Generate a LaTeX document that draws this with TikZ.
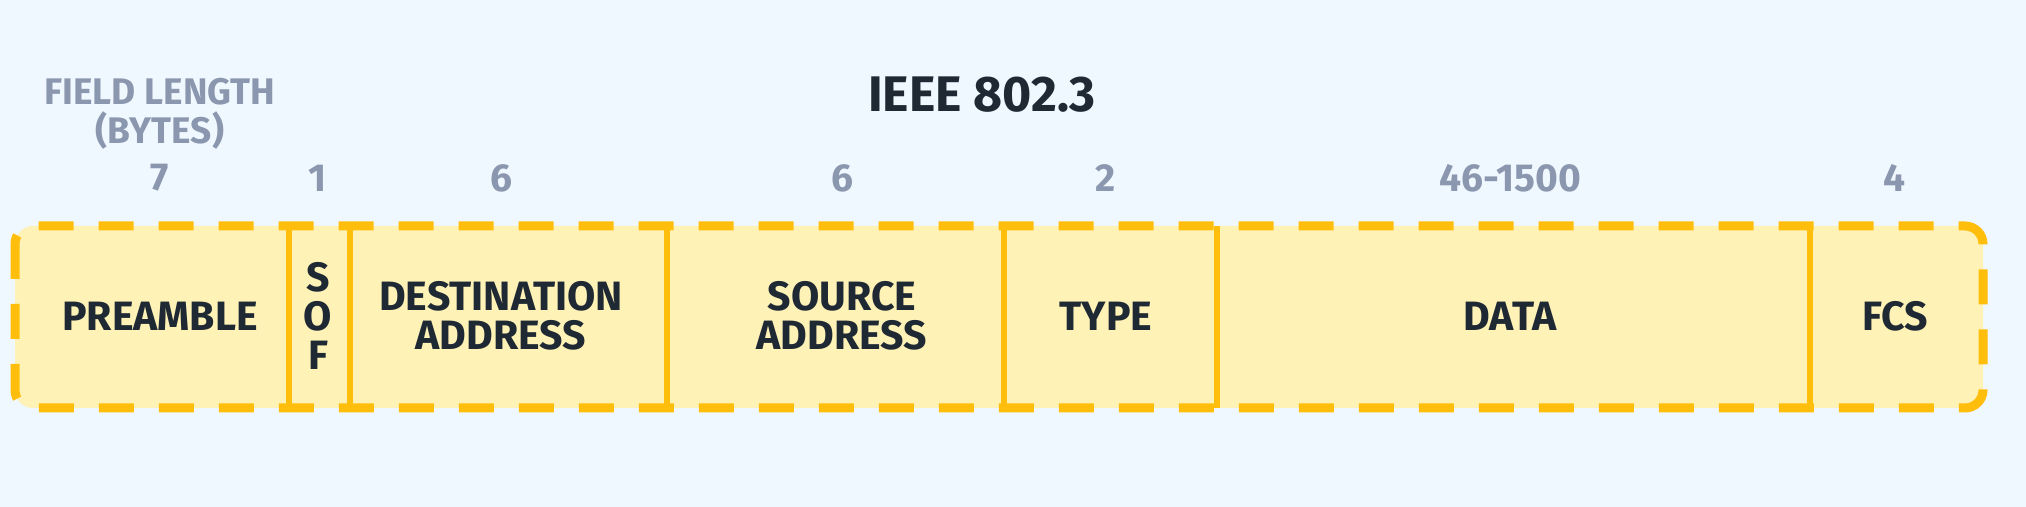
\documentclass[tikz,border=0pt]{standalone}
\usepackage{fontspec}
\setmainfont{Fira Sans}
\usepackage{xcolor}
\usepackage{tikz}

\definecolor{bgblue}{HTML}{EFF7FF}
\definecolor{fieldfill}{HTML}{FFF2B6}
\definecolor{frameorange}{HTML}{FFBE0B}
\definecolor{darkink}{HTML}{1E2933}
\definecolor{grayink}{HTML}{8A97AE}

\begin{document}
\begin{tikzpicture}[x=0.5pt, y=-0.5pt,
    lbl/.style={font=\bfseries\fontsize{20.5}{19.5}\selectfont, text=darkink, align=center},
    len/.style={font=\bfseries\fontsize{18.5}{19.5}\selectfont, text=grayink, align=center},
    frame/.style={draw=frameorange, line width=4.5pt, dash pattern=on 17.5pt off 12.5pt},
    divider/.style={draw=frameorange, line width=3pt}]
    \fill[bgblue] (0,0) rectangle (2026,507);

    % frame of the packet
    \filldraw[frame, fill=fieldfill, rounded corners=9pt] (15,226) rectangle (1983,408);
    \foreach \x in {289,350,667,1004,1217,1810}
        \draw[divider] (\x,226) -- (\x,408);

    \node[lbl, font=\bfseries\fontsize{25}{28}\selectfont] (title) at (982,95) {IEEE 802.3};
    \node[len] (unit) at (160,114) {FIELD LENGTH\\(BYTES)};

    \foreach \x/\n/\t/\id in {160/7/PREAMBLE/pre, 318/1/{S\\O\\F}/sof,
        501/6/{DESTINATION\\ADDRESS}/dst, 842/6/{SOURCE\\ADDRESS}/src,
        1106/2/TYPE/typ, 1510/46-1500/DATA/dat, 1895/4/FCS/fcs} {
        \node[len, font=\bfseries\fontsize{19.5}{20}\selectfont] (len-\id) at (\x,178) {\n};
        \node[lbl] (fld-\id) at (\x,316) {\t};
    }
  \end{tikzpicture}
\end{document}
